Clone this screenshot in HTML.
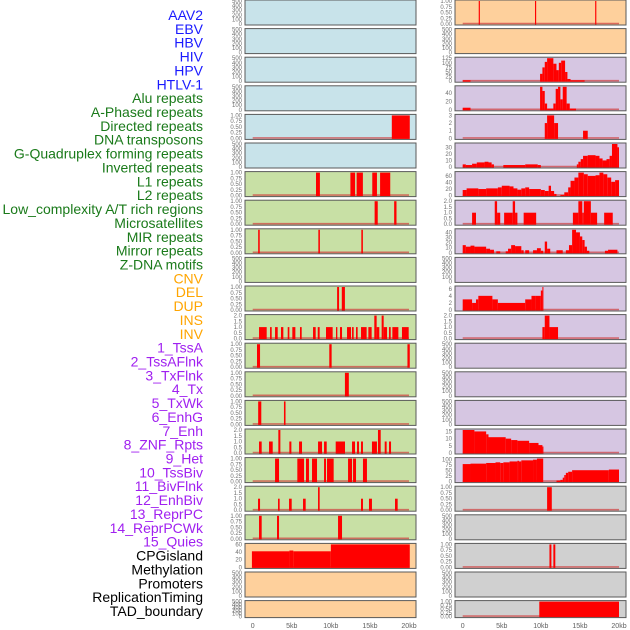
<!DOCTYPE html>
<html><head><meta charset="utf-8"><style>
html,body{margin:0;padding:0;background:#fff;}
svg{display:block;font-family:"Liberation Sans",sans-serif;}
</style></head><body>
<svg id="chart" width="630" height="630" viewBox="0 0 630 630" xmlns="http://www.w3.org/2000/svg">
<g id="labels"></g>
<g id="panels"></g>
<g id="xaxes"></g>
</svg>
<script>
// ---- data ----
const trackLabels = ["AAV2","EBV","HBV","HIV","HPV","HTLV-1","Alu repeats","A-Phased repeats","Directed repeats","DNA transposons","G-Quadruplex forming repeats","Inverted repeats","L1 repeats","L2 repeats","Low_complexity A/T rich regions","Microsatellites","MIR repeats","Mirror repeats","Z-DNA motifs","CNV","DEL","DUP","INS","INV","1_TssA","2_TssAFlnk","3_TxFlnk","4_Tx","5_TxWk","6_EnhG","7_Enh","8_ZNF_Rpts","9_Het","10_TssBiv","11_BivFlnk","12_EnhBiv","13_ReprPC","14_ReprPCWk","15_Quies","CPGisland","Methylation","Promoters","ReplicationTiming","TAD_boundary"];
const labelGroups = [6,13,5,15,5];
const xTickValues = [0,5,10,15,20];
const xTickLabels = ["0","5kb","10kb","15kb","20kb"];

// left column segments [startKb, endKb, value]
const L4 = [[17.8,20.1,1]];
const L6 = [[8.1,8.6,1],[12.5,13.1,1],[13.3,14.1,1],[15.3,15.9,1],[16.3,17.6,1]];
const L7 = [[15.6,16.0,1],[18.1,18.4,1]];
const L8 = [[0.7,0.9,1],[8.4,8.6,1],[13.9,14.1,1]];
const L10 = [[10.8,11.05,1],[11.4,11.8,1]];
const L11 = [[0.81,1.79,1],[2.22,2.43,1],[2.86,3.2,1],[3.62,3.92,1],[4.48,4.69,1],[5.07,5.46,1],[6.05,6.27,1],[7.72,8.06,1],[8.32,8.57,1],[9.38,10.23,1],[10.66,10.83,1],[11.17,11.43,1],[12.07,12.58,1],[12.71,12.92,1],[13.22,13.43,1],[13.86,14.58,1],[14.8,15.22,1],[15.56,15.86,2],[15.86,16.2,1],[16.5,16.76,2],[16.76,17.19,1],[17.44,17.66,1],[17.87,18.64,1],[19.1,19.96,1]];
const L12 = [[0.55,0.94,1],[9.8,10.1,1],[19.8,20.1,1]];
const L13 = [[11.8,12.3,1]];
const L14 = [[0.7,1.1,1],[4.0,4.2,1]];
const L15 = [[0.81,1.15,1],[2.09,2.56,1],[3.28,3.54,2],[4.69,4.95,1],[5.93,6.31,1],[8.36,8.87,1],[9.13,9.47,1],[10.62,11.81,1],[12.71,13.09,1],[13.35,13.6,1],[13.86,14.11,1],[15.26,15.9,1],[16.03,16.38,2],[16.89,17.14,1],[17.44,17.7,1]];
const L16 = [[2.86,3.37,1],[5.71,6.57,1],[6.82,7.2,1],[7.59,8.23,1],[9.13,9.38,1],[9.51,10.36,1],[12.2,12.71,1],[12.84,13.22,1],[14.11,14.62,1]];
const L17 = [[0.68,0.94,1],[3.24,3.45,1],[4.65,4.99,1],[6.44,6.78,1],[8.36,8.57,2],[13.86,14.11,1],[14.88,15.26,1],[18.21,18.55,1]];
const L18 = [[0.81,1.15,1],[3.11,3.37,1],[10.92,11.43,1]];
const L19 = [[-0.1,4.7,42],[4.7,5.2,44],[5.2,10,42],[10,20.1,60]];

// right column
const R0 = [[2.05,2.2,1],[9.25,9.4,1],[16.95,17.1,1]];
const R2 = [[0,1,5],[9.9,10.2,40],[10.2,10.5,75],[10.5,10.8,105],[10.8,11.6,125],[11.6,12,95],[12,12.3,60],[12.3,12.6,100],[12.6,13.1,112],[13.1,13.4,50],[13.4,13.8,12],[13.8,15.6,5]];
const R3 = [[0,1,5],[9.9,10.2,55],[10.2,10.5,45],[10.5,10.8,15],[10.8,11.6,3],[11.6,11.9,15],[11.9,12.2,50],[12.2,12.5,55],[12.5,12.8,25],[12.8,13.3,55],[13.3,13.7,15],[13.7,14.5,3]];
const R4 = [[10.5,10.8,2],[10.8,11.7,3],[11.7,12.2,2],[15.4,16.0,1]];
const R5 = [[0,0.4,4],[0.4,1.2,3],[1.2,1.8,5],[1.8,2.8,7],[2.8,3.3,8],[3.3,3.7,7],[3.7,4,4],[5.2,8,3],[8,9.6,4],[9.6,10,3],[14.6,14.8,4],[14.8,15.1,8],[15.1,15.4,12],[15.4,16,17],[16,17,18],[17,17.5,17],[17.5,17.9,13],[17.9,18.4,10],[18.4,18.8,12],[18.8,19.1,17],[19.1,19.8,35],[19.8,20,30]];
const R6 = [[0,0.5,17],[0.5,2,22],[2,3,20],[3,4.5,22],[4.5,5,25],[5,6,30],[6,6.5,28],[6.5,7,22],[7,7.5,18],[7.5,8,22],[8,8.5,25],[8.5,10,20],[10,10.5,17],[10.5,11,14],[11,11.3,30],[11.3,11.7,14],[11.7,12,5],[12.5,13,2],[13,13.5,10],[13.5,13.8,25],[13.8,14.3,45],[14.3,14.8,55],[14.8,15.5,70],[15.5,16,65],[16,17,60],[17,17.5,62],[17.5,18,70],[18,18.5,65],[18.5,19,55],[19,19.5,42],[19.5,20,47]];
const R7 = [[1.2,1.7,1],[4.1,4.4,2],[4.4,4.8,1],[5.3,6.4,1],[6.4,6.7,2],[6.7,7,1],[7.8,9.4,1],[14.1,14.8,1],[14.8,15.3,2],[15.3,15.5,1],[15.5,16.4,2],[16.4,17.2,1],[18.1,19.2,1]];
const R8 = [[0,0.4,15],[0.4,1,12],[1,1.5,14],[1.5,3,12],[3,3.5,8],[3.5,4,6],[4.3,4.8,3],[5.5,5.8,3],[5.8,6.2,8],[6.2,6.7,15],[6.7,7.5,13],[7.5,7.8,5],[8,8.5,5],[9,9.5,5],[9.5,10,9],[10,10.3,4],[10.5,10.8,22],[10.8,11.2,8],[12,12.8,5],[13.2,13.6,5],[13.6,14,15],[14,14.5,45],[14.5,15,40],[15,15.3,32],[15.3,15.6,25],[15.6,15.9,12],[15.9,16.2,4],[18.2,18.6,4],[18.6,19.8,6]];
const R10 = [[0,1.2,3],[1.2,1.7,2],[1.7,2,3],[2,3.8,4],[3.8,4.5,3],[4.5,8,2],[8,8.8,3],[8.8,9.3,4],[9.3,10,4],[10,10.2,5.5],[10.2,10.3,6.5]];
const R11 = [[10.2,10.5,1],[10.5,11.1,2],[11.1,12.2,1]];
const R15 = [[0,1.5,16],[1.5,3,15],[3,3.3,13],[3.3,5.5,11],[5.5,6.2,10],[6.2,7,9],[7,8.5,8.5],[8.5,9.7,7],[9.7,10.2,5.5],[10.2,10.3,4.5]];
const R16 = [[0,1,80],[1,3,82],[3,4.2,85],[4.2,4.8,88],[4.8,5.2,85],[5.2,6,88],[6,7,92],[7,7.2,95],[7.2,7.5,92],[7.5,9,97],[9,9.5,100],[9.5,10.3,105],[12,12.5,5],[12.5,12.8,8],[12.8,13,18],[13,13.2,30],[13.2,13.5,40],[13.5,14,45],[14,18.7,52],[18.7,20,55]];
const R17 = [[10.8,11.4,1]];
const R19 = [[11.1,11.35,1],[11.6,11.85,1]];
const R21 = [[9.8,20,1]];

const T500 = ["0","100","200","300","400","500"];
const T1 = ["0.00","0.25","0.50","0.75","1.00"];
const T2 = ["0.0","0.5","1.0","1.5","2.0"];
const leftData = [null,null,null,null,L4,null,L6,L7,L8,null,L10,L11,L12,L13,L14,L15,L16,L17,L18,L19,null,null];
const rightData = [R0,null,R2,R3,R4,R5,R6,R7,R8,null,R10,R11,null,null,null,R15,R16,R17,null,R19,null,R21];
const leftTicks = [T500,T500,T500,T500,T1,T500,T1,T1,T1,T500,T1,T2,T1,T1,T1,T2,T1,T2,T1,["0","20","40","60"],T500,T500];
const rightTicks = [T1,T500,["0","25","50","75","100","125"],["0","20","40"],["0","1","2","3"],["0","10","20","30"],["0","20","40","60"],T2,["0","10","20","30","40"],T500,["0","2","4","6"],T2,T500,T500,T500,["0","5","10","15"],["0","25","50","75","100"],T1,T500,T1,T500,T1];
const leftMax = [500,500,500,500,1,500,1,1,1,500,1,2,1,1,1,2,1,2,1,60,500,500];
const rightMax = [1,500,125,55,3,35,70,2,45,500,6.5,2,500,500,500,16,105,1,500,1,500,1];
const leftBg = r => r<6 ? "#c8e3ea" : (r<19 ? "#c8e0a5" : "#fed09c");
const rightBg = r => r<2 ? "#fed09c" : (r<17 ? "#d6c6e2" : "#d0d0d0");

// ---- drawing ----
const NS = "http://www.w3.org/2000/svg";
function mk(tag, attrs, parent){ const e=document.createElementNS(NS,tag); for(const k in attrs) e.setAttribute(k,attrs[k]); parent.appendChild(e); return e; }

const labelsG = document.getElementById("labels");
const groupColors = ["#1a1aff","#1a7a1a","#ffa500","#a020f0","#000000"];
let gi=0, gc=0;
trackLabels.forEach((t,i)=>{
  const el = mk("text",{x:203,y:20+i*13.86,"text-anchor":"end","font-size":"14",fill:groupColors[gi]},labelsG);
  el.textContent = t;
  
  
  gc++; if(gc>=labelGroups[gi]){gi++;gc=0;}
});

const panelsG = document.getElementById("panels");
const cols = [
  {x0:245,x1:416,z0:252.7,z1:409,data:leftData,ticks:leftTicks,max:leftMax,bg:leftBg,name:"left"},
  {x0:455,x1:626,z0:462.7,z1:619,data:rightData,ticks:rightTicks,max:rightMax,bg:rightBg,name:"right"}
];
function rowTop(r){ return r*28.6; }
function rowH(r){ return r===21 ? 17 : 25; }
cols.forEach(c=>{
  const xs = kb => c.z0 + (kb/20)*(c.z1-c.z0);
  for(let r=0;r<22;r++){
    const top=rowTop(r), h=rowH(r), bot=top+h;
    const g = mk("g",{},panelsG);
    
    
    const bg = mk("rect",{x:c.x0,y:top,width:c.x1-c.x0,height:h,fill:c.bg(r),stroke:"#5a5a5a","stroke-width":1},g);
    
    
    const ys = v => bot-1 - (v/c.max[r])*(h-2);
    const tk = c.ticks[r];
    tk.forEach(t=>{
      const v=parseFloat(t);
      const tt = mk("text",{x:c.x0-3,y:ys(v)+2,"text-anchor":"end","font-size":"6",fill:"#707070"},g);
      tt.textContent=t;
      
      
    });
    const d = c.data[r];
    if(d){
      const bl = mk("line",{x1:xs(0),x2:xs(20),y1:bot-1.5,y2:bot-1.5,stroke:"#d04040","stroke-width":1.6,opacity:0.7},g);
      
      
      d.forEach(s=>{
        const x=xs(s[0]), w=Math.max(xs(s[1])-x,1), y=Math.max(ys(s[2]),top+0.5);
        const b = mk("rect",{x:x,y:y,width:w,height:bot-0.5-y,fill:"#ff0000"},g);
        
        
      });
    }
  }
  const xg = document.getElementById("xaxes");
  xTickValues.forEach((v,i)=>{
    const t = mk("text",{x:xs(v),y:628,"text-anchor":"middle","font-size":"7",fill:"#606060"},xg);
    t.textContent = xTickLabels[i];
    
    
  });
});
</script>
</body></html>
